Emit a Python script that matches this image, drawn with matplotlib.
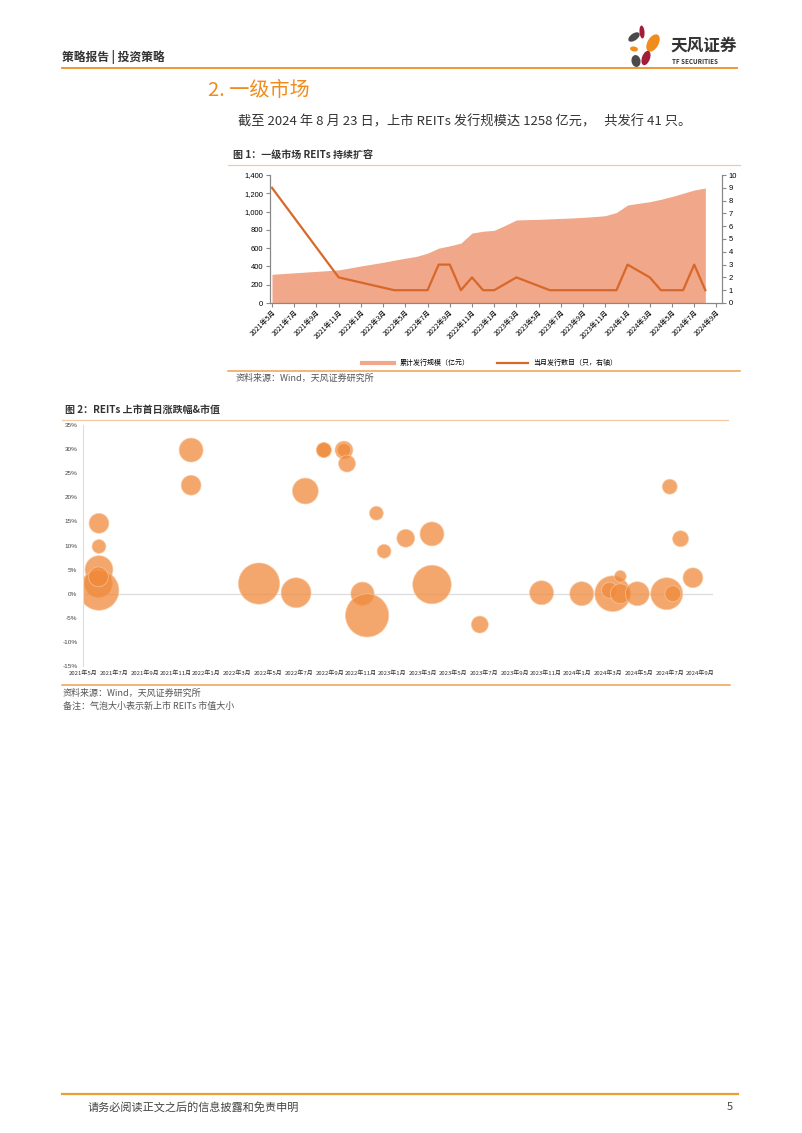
import matplotlib
matplotlib.use("Agg")
import matplotlib.pyplot as plt
from matplotlib.patches import Ellipse
import numpy as np
import pandas as pd

plt.rcParams['font.family'] = ['Noto Sans CJK SC', 'DejaVu Sans']

# ---- data: chart 1 (monthly, starting 2021-05) ----
area_months = pd.period_range("2021-05", "2024-08", freq="M")
cum_scale = [314, 322, 330, 338, 346, 354, 362, 383, 405, 425,
             445, 468, 490, 510, 545, 600, 625, 655, 765, 785,
             795, 850, 908, 912, 915, 920, 925, 930, 937, 945,
             955, 990, 1072, 1090, 1108, 1134, 1165, 1200, 1236, 1258]
issue_months = ["2021-05", "2021-11", "2022-04", "2022-07", "2022-08", "2022-09",
                "2022-10", "2022-11", "2022-12", "2023-01", "2023-03", "2023-06",
                "2023-12", "2024-01", "2024-03", "2024-04", "2024-06", "2024-07",
                "2024-08"]
issue_counts = [9, 2, 1, 1, 3, 3, 1, 2, 1, 1, 2, 1, 1, 3, 2, 1, 1, 3, 1]
tick_months = pd.period_range("2021-05", "2024-09", freq="2M")
tick_labels = [f"{p.year}年{p.month}月" for p in tick_months]

# ---- data: chart 2 (listing date, first-day return %, market value 亿元) ----
list_dates = ["2021-06-02", "2021-06-02", "2021-06-02", "2021-06-01", "2021-06-02",
              "2021-06-01", "2021-12-01", "2021-12-01", "2022-04-13", "2022-06-25",
              "2022-07-13", "2022-08-19", "2022-08-19", "2022-09-28", "2022-09-28",
              "2022-10-04", "2022-11-04", "2022-11-13", "2022-12-01", "2022-12-16",
              "2023-01-28", "2023-03-19", "2023-03-19", "2023-06-22", "2023-10-22",
              "2024-01-10", "2024-03-10", "2024-03-25", "2024-03-04", "2024-03-25",
              "2024-04-28", "2024-06-25", "2024-07-07", "2024-07-01", "2024-07-22",
              "2024-08-16"]
first_day_ret = [14.6, 9.8, 5.0, 2.1, 0.7, 3.5, 29.8, 22.5, 2.1, 0.2,
                 21.3, 29.8, 29.8, 29.8, 29.8, 27.0, 0.0, -4.5, 16.7, 8.8,
                 11.5, 12.4, 1.9, -6.4, 0.2, 0.0, 0.0, 3.6, 0.7, 0.0,
                 0.0, 0.0, 0.0, 22.2, 11.4, 3.3]
market_value = [37, 18, 73, 73, 150, 37, 54, 37, 160, 84,
                63, 21, 21, 30, 18, 27, 51, 176, 18, 18,
                30, 54, 140, 27, 54, 54, 120, 13, 24, 37,
                54, 96, 24, 21, 24, 37]

ORANGE = '#F08C1E'
W, H = 802, 1133
fig = plt.figure(figsize=(W / 100, H / 100), dpi=100)

# page layer in pixel coordinates
bg = fig.add_axes([0, 0, 1, 1])
bg.set_xlim(0, W)
bg.set_ylim(H, 0)
bg.axis('off')

# header
bg.text(62, 57, "策略报告 | 投资策略", fontsize=8.5, fontweight='bold', color='#333333', va='center')
bg.plot([62, 737], [68, 68], color=ORANGE, lw=1.3)
for (cx, cy, w, h, ang, c) in [(634, 37, 13, 7, -35, '#4a4a4a'), (642, 32, 5, 13, -5, '#a51c38'),
                               (653, 43, 11, 19, 30, ORANGE), (634, 49, 8, 5, 10, ORANGE),
                               (646, 58, 8, 15, 20, '#a51c38'), (636, 61, 9, 12, -10, '#4a4a4a')]:
    bg.add_patch(Ellipse((cx, cy), w, h, angle=ang, color=c, lw=0))
bg.text(670, 46, "天风证券", fontsize=12, fontweight='bold', color='#333333', va='center')
bg.text(672, 62, "TF SECURITIES", fontsize=4.5, fontweight='bold', color='#333333', va='center')

# section title and body
bg.text(208, 90, "2. 一级市场", fontsize=14.5, fontweight='medium', color=ORANGE, va='center')
bg.text(238, 122, "截至 2024 年 8 月 23 日，上市 REITs 发行规模达 1258 亿元，   共发行 41 只。",
        fontsize=9.5, color='#333333', va='center')

# chart 1 frame
bg.text(233, 156, "图 1：一级市场 REITs 持续扩容", fontsize=7.2, fontweight='bold', color='#333333', va='center')
bg.plot([228, 740], [165, 165], color='#F5C9A5', lw=0.9)
bg.plot([228, 740], [371, 371], color='#F0A050', lw=1.1)
bg.text(236, 378, "资料来源：Wind，天风证券研究所", fontsize=6.5, color='#555555', va='center')

# chart 2 frame
bg.text(65, 410, "图 2：REITs 上市首日涨跌幅&市值", fontsize=7.2, fontweight='bold', color='#333333', va='center')
bg.plot([62, 728], [420, 420], color='#F5C9A5', lw=0.9)
bg.plot([62, 730], [685, 685], color='#F0A050', lw=1.1)
bg.text(63, 693, "资料来源：Wind，天风证券研究所", fontsize=6.5, color='#555555', va='center')
bg.text(63, 706, "备注：气泡大小表示新上市 REITs 市值大小", fontsize=6.5, color='#555555', va='center')

# footer
bg.plot([62, 738], [1094, 1094], color='#E8A030', lw=1.6)
bg.text(88, 1107, "请务必阅读正文之后的信息披露和免责申明", fontsize=8, color='#444444', va='center')
bg.text(727, 1107, "5", fontsize=8, color='#444444', va='center')


def month_index(p):
    return (p.year - 2021) * 12 + p.month - 5


def ax_rect(x0, y0, x1, y1):
    return [x0 / W, 1 - y1 / H, (x1 - x0) / W, (y1 - y0) / H]


# ---- chart 1 ----
ax1 = fig.add_axes(ax_rect(270, 175, 722, 303))
m_area = [month_index(p) for p in area_months]
ax1.fill_between(m_area, 0, cum_scale, color='#F0A78A', lw=0, zorder=1,
                 label="累计发行规模（亿元）")
ax1.set_xlim(-0.18, 40.5)
ax1.set_ylim(0, 1400)
ax1.set_yticks(range(0, 1401, 200))
ax1.set_yticklabels([f"{v:,}" for v in range(0, 1401, 200)], family='Liberation Sans')
ax1.set_xticks([month_index(p) for p in tick_months])
ax1.set_xticklabels(tick_labels, rotation=45, ha='right', rotation_mode='anchor')
ax1.tick_params(axis='x', labelsize=5, length=3, color='#888888', pad=1)
ax1.tick_params(axis='y', labelsize=5.5, length=3, color='#888888', pad=2)
ax1.spines['top'].set_visible(False)
for s in ['left', 'bottom', 'right']:
    ax1.spines[s].set_color('#888888')
    ax1.spines[s].set_linewidth(0.8)

ax1r = ax1.twinx()
m_issue = [month_index(pd.Period(s, freq="M")) for s in issue_months]
ax1r.plot(m_issue, issue_counts, color='#D8682A', lw=1.6, label="当月发行数目（只，右轴）")
ax1r.set_ylim(0, 10)
ax1r.set_yticks(range(0, 11))
ax1r.set_yticklabels([str(v) for v in range(0, 11)], family='Liberation Sans')
ax1r.tick_params(axis='y', labelsize=5.5, length=3, color='#888888', pad=2)
ax1r.spines['top'].set_visible(False)
for s in ['left', 'bottom', 'right']:
    ax1r.spines[s].set_color('#888888')
    ax1r.spines[s].set_linewidth(0.8)

_, l1 = ax1.get_legend_handles_labels()
h2, l2 = ax1r.get_legend_handles_labels()
h1 = [plt.Line2D([], [], color='#F0A78A', lw=3)]
fig.legend(h1 + h2, l1 + l2, loc='center', ncol=2, frameon=False, fontsize=5,
           bbox_to_anchor=(490 / W, 1 - 363 / H), handlelength=4.5, columnspacing=4)

# ---- chart 2 ----
ax2 = fig.add_axes(ax_rect(83, 425, 713, 666))
dts = pd.to_datetime(list_dates)
m_list = [(d.year - 2021) * 12 + d.month - 5 + (d.day - 1) / 30 for d in dts]
ax2.axhline(0, color='#dddddd', lw=0.9, zorder=0)
ax2.scatter(m_list, first_day_ret, s=np.array(market_value) * 5.5, color='#F08A3C',
            alpha=0.75, edgecolors='#F8C8A0', linewidths=0.6, zorder=2)
ax2.set_xlim(0, 40.8)
ax2.set_ylim(-15, 35)
ax2.set_yticks(range(-15, 36, 5))
ax2.set_yticklabels([f"{v}%" for v in range(-15, 36, 5)], family='Liberation Sans')
ax2.set_xticks([month_index(p) for p in tick_months])
ax2.set_xticklabels(tick_labels)
ax2.tick_params(axis='x', labelsize=4.3, length=0, pad=3, colors='#333333')
ax2.tick_params(axis='y', labelsize=4.6, length=0, pad=4, colors='#444444')
for s in ['top', 'right', 'bottom']:
    ax2.spines[s].set_visible(False)
ax2.spines['left'].set_color('#dddddd')

fig.savefig("out.png", dpi=100)
